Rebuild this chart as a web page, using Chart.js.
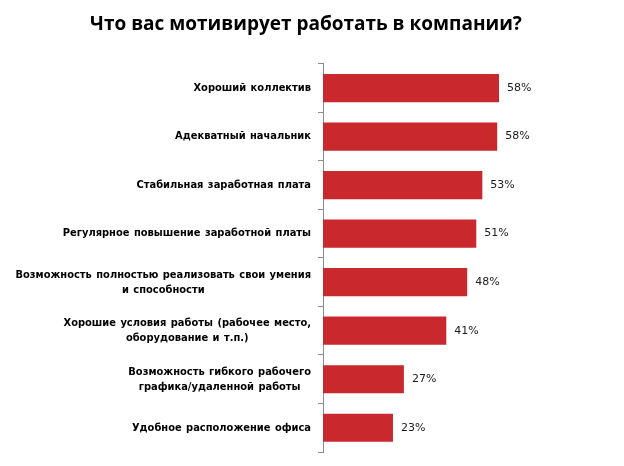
<!DOCTYPE html>
<html>
<head>
<meta charset="utf-8">
<script src="https://cdn.jsdelivr.net/npm/chart.js@4"></script>
<style>
  html, body { margin: 0; padding: 0; background: #fff; }
  #wrap { width: 624px; height: 466px; }
</style>
</head>
<body>
<div id="wrap"><canvas id="chart"></canvas></div>
<script>
// Data
const categories = [
    ['Хороший коллектив'],
    ['Адекватный начальник'],
    ['Стабильная заработная плата'],
    ['Регулярное повышение заработной платы'],
    ['Возможность полностью реализовать свои умения', 'и способности'],
    ['Хорошие условия работы (рабочее место,', 'оборудование и т.п.)'],
    ['Возможность гибкого рабочего', 'графика/удаленной работы'],
    ['Удобное расположение офиса']
];
const values = [58.1, 57.5, 52.6, 50.6, 47.6, 40.7, 26.7, 23.1];

const labelFont = 'bold 11px "DejaVu Sans Condensed", "DejaVu Sans"';
const valueFont = '11px "DejaVu Sans"';

// Category labels: block right aligned, lines centered inside the block
const categoryLabels = {
    id: 'categoryLabels',
    afterDraw(chart) {
        const ctx = chart.ctx;
        const yScale = chart.scales.y;
        const right = chart.chartArea.left - 12;
        ctx.save();
        ctx.font = labelFont;
        ctx.wordSpacing = '1px';
        ctx.fillStyle = '#000';
        ctx.textAlign = 'center';
        ctx.textBaseline = 'middle';
        categories.forEach(function(lines, i) {
            const y = yScale.getPixelForTick(i);
            const maxW = Math.max.apply(null, lines.map(l => ctx.measureText(l).width));
            const cx = right - maxW / 2;
            const lh = 15;
            const top = y - (lines.length - 1) * lh / 2;
            lines.forEach(function(line, j) {
                ctx.fillText(line, cx, top + j * lh);
            });
        });
        ctx.restore();
    }
};

// Value labels at the end of each bar
const valueLabels = {
    id: 'valueLabels',
    afterDatasetsDraw(chart) {
        const ctx = chart.ctx;
        const meta = chart.getDatasetMeta(0);
        ctx.save();
        ctx.font = valueFont;
        ctx.fillStyle = '#1a1a1a';
        ctx.textAlign = 'left';
        ctx.textBaseline = 'middle';
        meta.data.forEach(function(bar, i) {
            ctx.fillText(Math.round(values[i]) + '%', bar.x + 8, bar.y);
        });
        ctx.restore();
    }
};

new Chart(document.getElementById('chart'), {
    type: 'bar',
    data: {
        labels: categories,
        datasets: [{
            data: values,
            backgroundColor: '#C9282D',
            barPercentage: 0.58,
            categoryPercentage: 1
        }]
    },
    options: {
        indexAxis: 'y',
        responsive: true,
        maintainAspectRatio: false,
        animation: false,
        layout: { padding: { left: 0, right: 12, top: 0, bottom: 14 } },
        scales: {
            x: { display: false, min: 0, max: 95.4 },
            y: {
                afterFit: function(scale) { scale.width = 323; },
                border: { color: '#8c8c8c', width: 1 },
                grid: {
                    drawOnChartArea: false,
                    drawTicks: true,
                    tickLength: 5,
                    color: '#8c8c8c'
                },
                ticks: { display: false }
            }
        },
        plugins: {
            legend: { display: false },
            tooltip: { enabled: false },
            title: {
                display: true,
                text: 'Что вас мотивирует работать в компании?',
                color: '#000',
                font: { family: 'Open Sans', size: 19, weight: 'bold', lineHeight: 1.2 },
                padding: { top: 13, bottom: 28 }
            }
        }
    },
    plugins: [categoryLabels, valueLabels]
});
</script>
</body>
</html>
